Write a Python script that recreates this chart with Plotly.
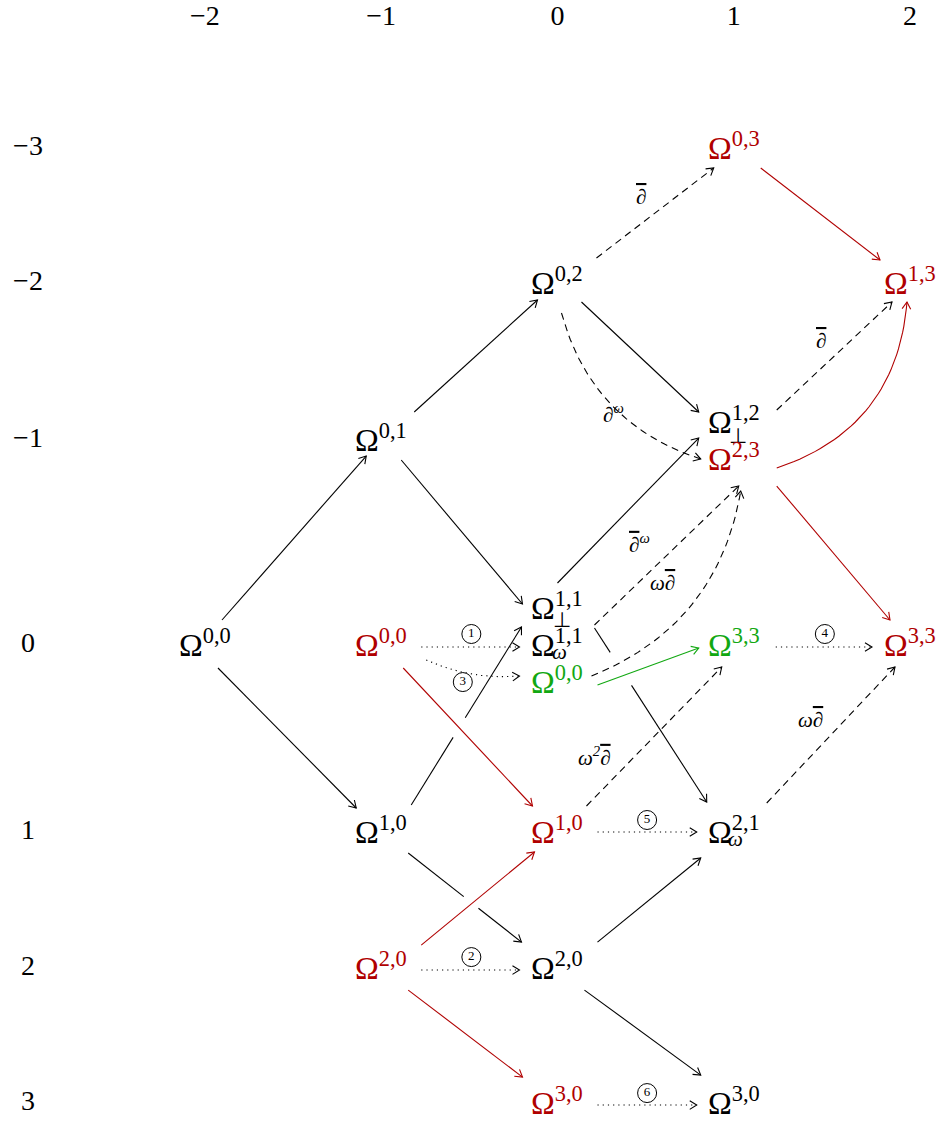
import math
import plotly.graph_objects as go

# ---------------- data ----------------
col_values = [-2, -1, 0, 1, 2]
col_labels = ["−2", "−1", "0", "1", "2"]
row_values = [-3, -2, -1, 0, 1, 2, 3]
row_labels = ["−3", "−2", "−1", "0", "1", "2", "3"]

node_names = ["a", "b", "c", "d", "e", "f", "g", "h", "i", "j",
              "k", "l", "m", "n", "o", "p", "q", "r", "s", "t"]
node_col = [-2, -1, -1, -1, -1, 0, 0, 0, 0, 0, 0, 0, 1, 1, 1, 1, 1, 1, 2, 2]
node_row = [0, -1, 0, 1, 2, -2, 0, 0, 0, 1, 2, 3, -3, -1, -1, 0, 1, 3, -2, 0]
node_sup = ["0,0", "0,1", "0,0", "1,0", "2,0", "0,2", "1,1", "1,1", "0,0", "1,0",
            "2,0", "3,0", "0,3", "1,2", "2,3", "3,3", "2,1", "3,0", "1,3", "3,3"]
node_sub = ["", "", "", "", "", "", "⊥", "ω", "", "",
            "", "", "", "⊥", "", "", "ω", "", "", ""]
node_tone = ["k", "k", "r", "k", "r", "k", "k", "k", "g", "r",
             "k", "r", "r", "k", "r", "g", "k", "k", "r", "r"]

edge_src = ["a", "a", "b", "b", "d", "d", "f", "g", "h", "k", "k",
            "c", "e", "e", "m", "o", "o", "i",
            "f", "f", "n", "h", "i", "j", "q",
            "c", "c", "p", "j", "e", "l"]
edge_dst = ["b", "d", "f", "h", "h", "k", "n", "o", "q", "q", "r",
            "j", "j", "l", "s", "t", "s", "p",
            "m", "o", "s", "o", "o", "p", "t",
            "h", "i", "t", "q", "k", "r"]
edge_kind = ["solid"] * 18 + ["dash"] * 7 + ["dot"] * 6
edge_tone = ["k"] * 11 + ["r"] * 6 + ["g"] + ["k"] * 13
BAR = "<span style='text-decoration:overline'>∂</span>"
edge_label = [""] * 18 + [BAR, "∂<sup>ω</sup>", BAR, BAR + "<sup>ω</sup>",
                          "ω" + BAR, "ω<sup>2</sup>" + BAR, "ω" + BAR] + \
             ["1", "3", "4", "5", "2", "6"]

# ---------------- layout / style ----------------
PX = 176.25                      # pixels per unit, both axes
row_pos = [-2.82, -2.054, -1.163, 0.0, 1.061, 1.833, 2.599]
node_shift = {"g": -37, "i": 37, "n": -18, "o": 19}     # px, stacked cells
sub_shift = {"g": (5, -12), "h": (2, -7), "n": (4, -14), "q": (2, -7)}
TONES = {"k": "#000000", "r": "#b00000", "g": "#12a812"}
FONT = "Liberation Serif"

start_off = [(17, -25), (13, 23), (33, -28), (20, 20), (30, -27), (27, 21), (24, 19),
             (0, -25), (37, -17), (40, -26), (27, 22),
             (22, 23), (40, -23), (27, 22), (27, 20), (43, 27), (43, 9), (40, 3),
             (39, -25), (4, 30), (43, -12), (37, -20), (34, -6), (29, -26), (33, -29),
             (40, 2), (45, 15), (42, 2), (40, 0), (40, 2), (40, 2)]
end_off = [(-15, 16), (-25, -24), (-20, 17), (-35, -41), (-36, -18), (-36, -26), (-35, -10),
           (-35, -21), (-27, -30), (-33, 26), (-33, -28),
           (-25, -26), (-23, 20), (-35, -26), (-30, -23), (-20, -25), (-3, 19), (-35, 3),
           (-20, 20), (-33, 0), (-18, 19), (5, 27), (7, 32), (-12, 22), (-15, 22),
           (-38, 2), (-38, -6), (-38, 2), (-37, 0), (-38, 2), (-37, 2)]
bend = {16: 0.33, 19: 0.27, 22: 0.28, 26: 0.13}
gaps = {4: (0.38, 0.49), 5: (0.49, 0.62), 8: (0.14, 0.33)}
label_off = {18: (-14, -16), 19: (2, 9), 20: (-13, -15), 21: (-27, -12),
             22: (-30, -21), 23: (-60, 20), 24: (-20, -15),
             25: (1, -13), 26: (-9, 8), 27: (1, -13), 28: (0, -12), 29: (1, -13), 30: (0, -12)}

W, H = 940, 1122
x0 = -3.163
y0 = -645 / PX

pos = {}
for nm, c, r in zip(node_names, node_col, node_row):
    pos[nm] = (c, row_pos[row_values.index(r)] + node_shift.get(nm, 0) / PX)

fig = go.Figure()
segs = {}
heads = {}


def add(store, key, pts):
    xs, ys = store.setdefault(key, ([], []))
    for p in pts:
        xs.append(p[0]); ys.append(p[1])
    xs.append(None); ys.append(None)


def bez(p0, c, p1, t):
    return ((1 - t) ** 2 * p0[0] + 2 * (1 - t) * t * c[0] + t * t * p1[0],
            (1 - t) ** 2 * p0[1] + 2 * (1 - t) * t * c[1] + t * t * p1[1])


AL, AW = 7 / PX, 4.3 / PX
annos = []
circ_x, circ_y, circ_t = [], [], []

for i in range(len(edge_src)):
    sx, sy = pos[edge_src[i]]
    dx_, dy_ = pos[edge_dst[i]]
    p0 = (sx + start_off[i][0] / PX, sy + start_off[i][1] / PX)
    p1 = (dx_ + end_off[i][0] / PX, dy_ + end_off[i][1] / PX)
    vx, vy = p1[0] - p0[0], p1[1] - p0[1]
    L = math.hypot(vx, vy)
    b = bend.get(i, 0.0)
    mid = ((p0[0] + p1[0]) / 2, (p0[1] + p1[1]) / 2)
    ctrl = (mid[0] + b * L * (-vy / L), mid[1] + b * L * (vx / L))
    key = (edge_tone[i], edge_kind[i])
    if b:
        pts = [bez(p0, ctrl, p1, k / 40) for k in range(41)]
        add(segs, key, pts)
        tx, ty = p1[0] - ctrl[0], p1[1] - ctrl[1]
        lp = bez(p0, ctrl, p1, 0.5)
    else:
        if i in gaps:
            g0, g1 = gaps[i]
            add(segs, key, [p0, (p0[0] + g0 * vx, p0[1] + g0 * vy)])
            add(segs, key, [(p0[0] + g1 * vx, p0[1] + g1 * vy), p1])
        else:
            add(segs, key, [p0, p1])
        tx, ty = vx, vy
        lp = mid
    tl = math.hypot(tx, ty)
    ux, uy = tx / tl, ty / tl
    bx, by = p1[0] - AL * ux, p1[1] - AL * uy
    add(heads, edge_tone[i], [(bx - AW * uy, by + AW * ux), p1, (bx + AW * uy, by - AW * ux)])
    if edge_label[i]:
        ox, oy = label_off[i]
        lx, ly = lp[0] + ox / PX, lp[1] + oy / PX
        if edge_kind[i] == "dot":
            circ_x.append(lx); circ_y.append(ly); circ_t.append(edge_label[i])
        else:
            annos.append(dict(x=lx, y=ly, text="<i>" + edge_label[i] + "</i>", showarrow=False,
                              xanchor="center", yanchor="middle",
                              font=dict(family=FONT, size=21, color="black")))

DASH = {"solid": "solid", "dash": "7px,5px", "dot": "1.2px,4px"}
for (tone, kind), (xs, ys) in segs.items():
    fig.add_trace(go.Scatter(x=xs, y=ys, mode="lines", hoverinfo="skip",
                             line=dict(color=TONES[tone], width=1.1, dash=DASH[kind])))
for tone, (xs, ys) in heads.items():
    fig.add_trace(go.Scatter(x=xs, y=ys, mode="lines", hoverinfo="skip",
                             line=dict(color=TONES[tone], width=1.1)))

fig.add_trace(go.Scatter(x=circ_x, y=circ_y, mode="markers+text", text=circ_t,
                         textposition="middle center", hoverinfo="skip",
                         marker=dict(symbol="circle-open", size=19,
                                     line=dict(width=1, color="black"), color="black"),
                         textfont=dict(family=FONT, size=13, color="black")))

for nm, sup, sub, tone in zip(node_names, node_sup, node_sub, node_tone):
    x, y = pos[nm]
    annos.append(dict(x=x, y=y, text=f"Ω<sup>{sup}</sup>", showarrow=False,
                      xanchor="center", yanchor="middle", yshift=2,
                      font=dict(family=FONT, size=32, color=TONES[tone])))
    if sub:
        sxs, sys_ = sub_shift[nm]
        annos.append(dict(x=x, y=y, text=("<i>" + sub + "</i>") if sub == "ω" else sub,
                          showarrow=False, xanchor="center",
                          yanchor="middle", xshift=sxs, yshift=sys_,
                          font=dict(family=FONT, size=21, color=TONES[tone])))

hdr_y = (18 - 645) / PX
fig.add_trace(go.Scatter(x=col_values, y=[hdr_y] * len(col_values), mode="text",
                         text=col_labels, textposition="middle center", hoverinfo="skip",
                         textfont=dict(family=FONT, size=28, color="black"), cliponaxis=False))
row_x = -3.163 + 28 / PX
fig.add_trace(go.Scatter(x=[row_x] * len(row_values), y=row_pos, mode="text",
                         text=row_labels, textposition="middle center", hoverinfo="skip",
                         textfont=dict(family=FONT, size=28, color="black"), cliponaxis=False))

fig.update_layout(
    width=W, height=H, margin=dict(l=0, r=0, t=0, b=0),
    paper_bgcolor="white", plot_bgcolor="white", showlegend=False,
    annotations=annos,
    xaxis=dict(range=[x0, x0 + W / PX], visible=False, fixedrange=True),
    yaxis=dict(range=[y0 + H / PX, y0], visible=False, fixedrange=True),
)
fig.write_html("out.html", config={"displayModeBar": False},
               post_script="document.body.style.margin='0';document.body.style.overflow='hidden';")
